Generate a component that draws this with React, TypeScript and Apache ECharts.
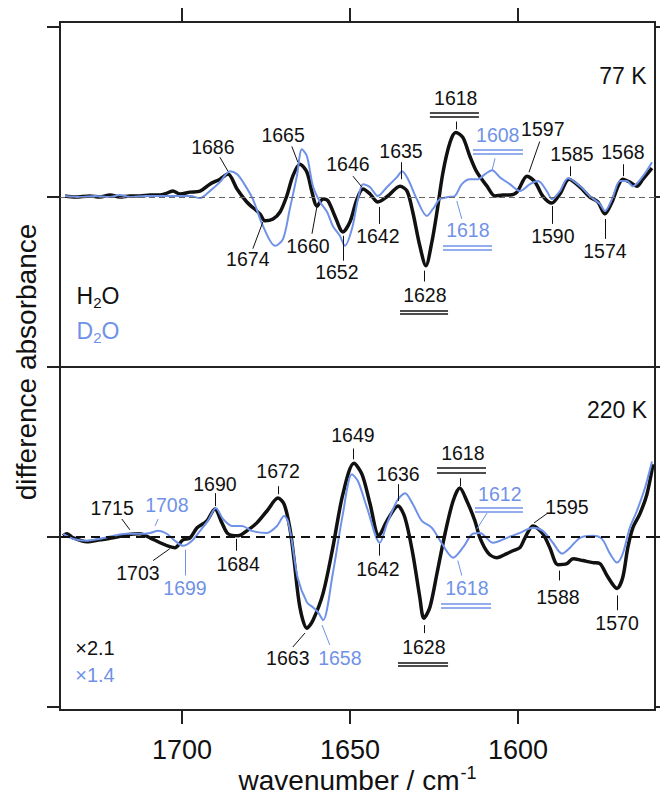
import React, { useEffect, useRef } from 'react';
import * as echarts from 'echarts';

const FONT = "'Liberation Sans', Arial, Helvetica, sans-serif";
const BLACK = '#111111';
const BLUE = '#6f92e8';

// x range (wavenumber, reversed axis)
const WN_MIN = 1559.2;
const WN_MAX = 1736.3;
const X_TICKS = [1700, 1650, 1600];
const Y_TICKS = [-1, 0, 1];

// ---- 77 K, H2O (black) ----
const h2o77Wn = [1734.8, 1731.8, 1727.4, 1724.4, 1721.4, 1718.5, 1715.5, 1712.5, 1709.5, 1706.5, 1705.1, 1702.7, 1700.6, 1697.6, 1694.6, 1691.7, 1688.7, 1686.3, 1683.6, 1680.7, 1676.8, 1675.3, 1672.9, 1670.8, 1668.8, 1667.0, 1664.9, 1662.8, 1661.3, 1659.8, 1658.0, 1656.5, 1654.5, 1652.1, 1650.0, 1647.9, 1646.1, 1644.0, 1641.7, 1638.7, 1635.1, 1633.0, 1631.3, 1629.2, 1627.4, 1625.6, 1624.1, 1622.3, 1620.2, 1618.5, 1616.4, 1614.3, 1612.2, 1609.2, 1606.8, 1604.5, 1602.4, 1600.3, 1597.3, 1594.9, 1592.6, 1589.9, 1587.5, 1584.8, 1581.5, 1578.6, 1576.2, 1574.1, 1572.0, 1570.2, 1568.8, 1566.7, 1564.6, 1562.8, 1560.1];
const h2o77Abs = [0.006, 0, 0.006, 0, 0.012, 0, 0.006, 0.006, 0.012, 0.012, 0.018, 0.035, 0.018, 0.029, 0.035, 0.076, 0.105, 0.135, 0.047, -0.029, -0.099, -0.140, -0.129, -0.088, 0.006, 0.123, 0.193, 0.146, 0.029, -0.053, -0.012, -0.023, -0.111, -0.205, -0.146, -0.012, 0.047, 0.018, -0.029, 0.006, 0.064, 0.035, -0.088, -0.287, -0.404, -0.263, -0.088, 0.146, 0.322, 0.380, 0.351, 0.240, 0.146, 0.064, 0.006, 0.012, 0.012, 0.029, 0.123, 0.088, 0.006, -0.035, 0.018, 0.105, 0.058, 0, -0.029, -0.099, -0.029, 0.064, 0.105, 0.088, 0.064, 0.105, 0.170];

// ---- 77 K, D2O (blue) ----
const d2o77Wn = [1734.8, 1730.4, 1725.9, 1721.4, 1718.5, 1715.5, 1711.0, 1706.5, 1702.1, 1697.6, 1694.6, 1691.7, 1688.7, 1685.7, 1683.6, 1681.8, 1678.9, 1675.9, 1672.3, 1669.9, 1667.9, 1665.8, 1664.3, 1662.8, 1661.0, 1658.9, 1656.8, 1655.1, 1653.0, 1651.5, 1649.4, 1647.6, 1646.1, 1644.0, 1641.7, 1639.0, 1636.0, 1634.5, 1632.7, 1630.1, 1627.1, 1625.3, 1623.2, 1620.8, 1618.8, 1616.7, 1614.3, 1611.9, 1609.8, 1607.7, 1605.4, 1602.4, 1599.4, 1596.4, 1594.0, 1591.4, 1589.9, 1587.5, 1585.1, 1581.5, 1578.6, 1575.6, 1574.1, 1572.0, 1569.6, 1567.6, 1565.8, 1562.8, 1560.1];
const d2o77Abs = [0.006, 0, 0.006, 0, 0.012, 0, 0.006, 0.006, 0.006, 0.006, -0.006, 0.035, 0.088, 0.152, 0.135, 0.088, -0.012, -0.170, -0.287, -0.246, -0.070, 0.123, 0.281, 0.240, 0.064, -0.029, -0.088, -0.170, -0.228, -0.287, -0.187, -0.012, 0.076, 0.058, 0.006, 0.058, 0.117, 0.152, 0.105, -0.012, -0.111, -0.070, -0.012, 0, 0.006, 0.076, 0.105, 0.105, 0.135, 0.158, 0.117, 0.076, 0.035, 0.076, 0.094, 0.035, -0.012, 0.035, 0.111, 0.064, 0.006, -0.041, -0.082, -0.012, 0.094, 0.094, 0.064, 0.123, 0.205];

// ---- 220 K, H2O (black, x2.1) ----
const h2o220Wn = [1735.4, 1734.2, 1732.4, 1728.3, 1724.4, 1720.5, 1716.4, 1712.5, 1709.5, 1706.5, 1703.6, 1702.1, 1699.7, 1697.6, 1695.5, 1692.6, 1690.2, 1688.1, 1686.3, 1683.3, 1680.7, 1677.7, 1674.7, 1671.4, 1669.6, 1667.9, 1666.7, 1664.9, 1662.8, 1661.0, 1658.0, 1655.1, 1652.1, 1648.8, 1646.4, 1644.0, 1641.4, 1639.0, 1635.7, 1633.6, 1631.3, 1629.2, 1628.0, 1626.2, 1624.1, 1621.7, 1619.3, 1617.3, 1615.2, 1612.8, 1611.3, 1608.9, 1606.3, 1603.3, 1601.5, 1599.4, 1597.9, 1595.5, 1592.6, 1590.5, 1588.1, 1585.4, 1583.6, 1580.7, 1577.7, 1575.6, 1573.5, 1570.5, 1568.8, 1567.3, 1565.8, 1563.7, 1561.6, 1559.8];
const h2o220Abs = [0.006, 0.018, -0.006, -0.029, -0.018, -0.006, 0.012, 0.018, -0.006, -0.035, -0.058, -0.064, -0.018, -0.006, 0.053, 0.094, 0.164, 0.082, 0.018, 0.006, 0.035, 0.082, 0.152, 0.228, 0.193, 0.053, -0.123, -0.415, -0.538, -0.491, -0.333, -0.064, 0.251, 0.433, 0.368, 0.193, 0.006, 0.094, 0.181, 0.111, -0.099, -0.357, -0.480, -0.415, -0.216, 0.018, 0.211, 0.287, 0.211, 0.094, -0.006, -0.094, -0.123, -0.099, -0.082, -0.064, -0.006, 0.064, 0.018, -0.064, -0.164, -0.158, -0.129, -0.140, -0.152, -0.158, -0.228, -0.304, -0.240, -0.064, 0.053, 0.135, 0.251, 0.427];

// ---- 220 K, D2O (blue, x1.4) ----
const d2o220Wn = [1735.4, 1732.4, 1728.3, 1724.4, 1716.4, 1712.5, 1709.5, 1707.1, 1704.5, 1702.1, 1699.7, 1697.0, 1694.6, 1692.3, 1689.9, 1687.8, 1685.1, 1682.1, 1679.2, 1674.7, 1671.7, 1669.6, 1668.5, 1667.3, 1665.5, 1662.8, 1661.0, 1659.5, 1658.0, 1655.1, 1652.1, 1649.4, 1647.6, 1644.9, 1641.1, 1639.0, 1636.0, 1633.6, 1631.3, 1628.6, 1625.6, 1622.6, 1619.3, 1616.4, 1613.4, 1611.3, 1607.4, 1603.3, 1599.4, 1595.5, 1592.6, 1589.6, 1586.9, 1584.5, 1581.5, 1577.7, 1575.0, 1572.6, 1570.5, 1568.8, 1566.7, 1564.6, 1562.2, 1560.1];
const d2o220Abs = [0.018, -0.012, -0.023, -0.012, 0.018, 0.018, 0.023, 0.035, 0.018, -0.023, -0.053, -0.023, 0.035, 0.094, 0.170, 0.105, 0.064, 0.064, 0.035, 0.023, 0.064, 0.123, 0.094, -0.023, -0.246, -0.386, -0.415, -0.444, -0.491, -0.216, 0.135, 0.368, 0.327, 0.170, -0.035, 0.076, 0.211, 0.257, 0.193, 0.094, 0.053, -0.041, -0.123, -0.064, 0.018, 0.023, -0.035, -0.006, 0.023, 0.053, 0.035, -0.035, -0.099, -0.064, -0.006, 0.006, -0.012, -0.099, -0.152, -0.099, 0.053, 0.152, 0.287, 0.444];

// ---- peak annotations: label text, label anchor (wn, abs), leader line, double underline ----
type Ann = { t: string; w: number; v: number; lead?: number[]; under?: number[] };

const ann77Black: Ann[] = [
  { t: '1686', w: 1690.8, v: 0.292, lead: [1688.7, 0.234, 1686.3, 0.152] },
  { t: '1665', w: 1669.9, v: 0.368, lead: [1667.3, 0.298, 1665.5, 0.205] },
  { t: '1674', w: 1680.4, v: -0.363, lead: [1678.9, -0.304, 1675.9, -0.146] },
  { t: '1660', w: 1662.5, v: -0.287, lead: [1661.3, -0.216, 1659.8, -0.053] },
  { t: '1652', w: 1653.9, v: -0.439, lead: [1652.1, -0.374, 1652.1, -0.228] },
  { t: '1646', w: 1650.6, v: 0.193, lead: [1649.1, 0.123, 1646.4, 0.058] },
  { t: '1642', w: 1641.7, v: -0.228, lead: [1641.4, -0.158, 1641.4, -0.058] },
  { t: '1635', w: 1634.8, v: 0.269, lead: [1634.8, 0.205, 1634.8, 0.105] },
  { t: '1628', w: 1627.7, v: -0.579, lead: [1628.0, -0.497, 1628.0, -0.433], under: [1635.1, 1620.8, -0.667, -0.684] },
  { t: '1618', w: 1618.5, v: 0.585, lead: [1618.5, 0.444, 1618.5, 0.398], under: [1626.2, 1611.6, 0.497, 0.474] },
  { t: '1597', w: 1592.6, v: 0.398, lead: [1593.5, 0.327, 1596.7, 0.146] },
  { t: '1585', w: 1583.9, v: 0.251, lead: [1584.5, 0.181, 1584.5, 0.123] },
  { t: '1568', w: 1568.75, v: 0.263, lead: [1568.75, 0.193, 1568.75, 0.123] },
  { t: '1590', w: 1589.6, v: -0.228, lead: [1589.9, -0.053, 1589.9, -0.158] },
  { t: '1574', w: 1574.1, v: -0.316, lead: [1574.1, -0.129, 1574.1, -0.246] },
];
const ann77Blue: Ann[] = [
  { t: '1608', w: 1606.0, v: 0.368, lead: [1606.8, 0.228, 1607.7, 0.158], under: [1613.4, 1598.5, 0.281, 0.257] },
  { t: '1618', w: 1614.9, v: -0.193, lead: [1618.2, -0.023, 1616.7, -0.129], under: [1622.3, 1607.7, -0.287, -0.310] },
];
const ann220Black: Ann[] = [
  { t: '1715', w: 1720.8, v: 0.170, lead: [1717.9, 0.105, 1715.5, 0.041] },
  { t: '1703', w: 1713.1, v: -0.216, lead: [1708.6, -0.140, 1703.6, -0.070] },
  { t: '1690', w: 1690.2, v: 0.310, lead: [1690.2, 0.257, 1690.2, 0.181] },
  { t: '1684', w: 1683.3, v: -0.158, lead: [1683.9, -0.082, 1683.9, -0.012] },
  { t: '1672', w: 1671.4, v: 0.386, lead: [1671.4, 0.298, 1671.4, 0.251] },
  { t: '1663', w: 1668.5, v: -0.713, lead: [1667.0, -0.649, 1663.4, -0.567] },
  { t: '1649', w: 1649.1, v: 0.602, lead: [1649.1, 0.520, 1649.1, 0.456] },
  { t: '1636', w: 1635.7, v: 0.368, lead: [1635.7, 0.310, 1635.7, 0.211] },
  { t: '1642', w: 1641.7, v: -0.187, lead: [1641.4, -0.111, 1641.4, -0.041] },
  { t: '1628', w: 1628.0, v: -0.649, lead: [1628.0, -0.567, 1628.0, -0.520], under: [1635.7, 1620.8, -0.743, -0.760] },
  { t: '1618', w: 1616.4, v: 0.491, lead: [1617.3, 0.345, 1617.3, 0.298], under: [1624.1, 1609.5, 0.404, 0.380] },
  { t: '1595', w: 1585.4, v: 0.175, lead: [1591.1, 0.140, 1595.2, 0.082] },
  { t: '1588', w: 1588.1, v: -0.357, lead: [1587.8, -0.199, 1587.8, -0.257] },
  { t: '1570', w: 1570.5, v: -0.509, lead: [1570.5, -0.345, 1570.5, -0.433] },
];
const ann220Blue: Ann[] = [
  { t: '1708', w: 1704.5, v: 0.187, lead: [1707.1, 0.105, 1708.0, 0.064] },
  { t: '1699', w: 1699.1, v: -0.304, lead: [1699.1, -0.228, 1699.1, -0.076] },
  { t: '1658', w: 1653.0, v: -0.713, lead: [1656.0, -0.637, 1658.3, -0.520] },
  { t: '1612', w: 1605.4, v: 0.251, lead: [1609.2, 0.140, 1612.2, 0.047], under: [1612.8, 1598.5, 0.170, 0.146] },
  { t: '1618', w: 1615.2, v: -0.304, lead: [1617.9, -0.140, 1616.7, -0.228], under: [1622.9, 1608.0, -0.392, -0.415] },
];

// panel texts
const panel77Texts = [
  { t: '77 K', w: 1568.75, v: 0.713, color: BLACK, size: 23 },
  { t: '{a|H}{s|2}{a|O}', w: 1725.0, v: -0.585, color: BLACK, size: 23 },
  { t: '{a|D}{s|2}{a|O}', w: 1725.0, v: -0.789, color: BLUE, size: 23 },
];
const panel220Texts = [
  { t: '220 K', w: 1570.5, v: 0.749, color: BLACK, size: 23 },
  { t: '×2.1', w: 1725.9, v: -0.655, color: BLACK, size: 20 },
  { t: '×1.4', w: 1725.9, v: -0.813, color: BLUE, size: 20 },
];

const zip = (xs: number[], ys: number[]) => {
  const n = Math.min(xs.length, ys.length);
  const out: number[][] = [];
  for (let i = 0; i < n; i++) out.push([xs[i], ys[i]]);
  return out;
};

const labelPoint = (t: string, w: number, v: number, color: string, size: number) => ({
  coord: [w, v],
  symbol: 'circle',
  symbolSize: 0,
  itemStyle: { color: 'rgba(0,0,0,0)' },
  label: {
    show: true,
    position: 'inside',
    formatter: t,
    color,
    fontSize: size,
    fontFamily: FONT,
    rich: {
      a: { fontSize: size, color, fontFamily: FONT },
      s: { fontSize: Math.round(size * 0.65), color, fontFamily: FONT, padding: [12, 0, 0, 0] },
    },
  },
});

const buildMarks = (anns: Ann[], color: string) => {
  const points = anns.map((a) => labelPoint(a.t, a.w, a.v, color, 19.5));
  const lines: any[] = [];
  anns.forEach((a) => {
    if (a.lead) {
      lines.push([
        { coord: [a.lead[0], a.lead[1]], lineStyle: { color, width: 1, type: 'solid' } },
        { coord: [a.lead[2], a.lead[3]] },
      ]);
    }
    if (a.under) {
      [a.under[2], a.under[3]].forEach((uv) => {
        lines.push([
          { coord: [a.under![0], uv], lineStyle: { color, width: 1.6, type: 'solid' } },
          { coord: [a.under![1], uv] },
        ]);
      });
    }
  });
  return { points, lines };
};

export default function App() {
  const ref = useRef<HTMLDivElement>(null);

  useEffect(() => {
    if (!ref.current) return;
    const chart = echarts.init(ref.current, undefined, { renderer: 'svg' });

    const m77k = buildMarks(ann77Black, BLACK);
    const m77b = buildMarks(ann77Blue, BLUE);
    const m220k = buildMarks(ann220Black, BLACK);
    const m220b = buildMarks(ann220Blue, BLUE);

    const frame = '#222222';
    const xBase = (gridIndex: number, position: 'top' | 'bottom', labels: boolean) => ({
      type: 'value',
      gridIndex,
      position,
      inverse: true,
      min: WN_MIN,
      max: WN_MAX,
      splitLine: { show: false },
      axisLine: { show: false, onZero: false },
      axisTick: {
        show: true,
        inside: false,
        length: 14,
        customValues: X_TICKS,
        lineStyle: { color: frame, width: 2 },
      },
      axisLabel: labels
        ? {
            show: true,
            customValues: X_TICKS,
            formatter: (v: number) => String(Math.round(v)),
            fontSize: 27,
            color: '#111',
            fontFamily: FONT,
            margin: 26,
          }
        : { show: false },
    });
    const yBase = (gridIndex: number, position: 'left' | 'right', min: number, max: number) => ({
      type: 'value',
      gridIndex,
      position,
      min,
      max,
      splitLine: { show: false },
      axisLine: { show: false, onZero: false },
      axisLabel: { show: false },
      axisTick: {
        show: true,
        inside: false,
        length: position === 'left' ? 13 : 6,
        customValues: Y_TICKS,
        lineStyle: { color: frame, width: 2 },
      },
    });

    const zeroLine = (color: string, width: number, dash: number[]) => ({
      yAxis: 0,
      lineStyle: { color, width, type: dash },
    });

    const lineSeries = (name: string, data: number[][], color: string, width: number, xi: number, yi: number, z: number) => ({
      name,
      type: 'line',
      xAxisIndex: xi,
      yAxisIndex: yi,
      data,
      showSymbol: false,
      symbol: 'none',
      smooth: 0.3,
      z,
      lineStyle: { color, width },
      itemStyle: { color },
      emphasis: { disabled: true },
    });

    const markLineBase = { silent: true, symbol: 'none', label: { show: false }, emphasis: { disabled: true } };
    const markPointBase = { silent: true, emphasis: { disabled: true } };

    chart.setOption({
      animation: false,
      backgroundColor: '#ffffff',
      grid: [
        { left: 60, top: 22, width: 595, height: 345, show: true, borderColor: frame, borderWidth: 2, backgroundColor: 'transparent' },
        { left: 60, top: 367, width: 595, height: 343, show: true, borderColor: frame, borderWidth: 2, backgroundColor: 'transparent' },
      ],
      xAxis: [
        xBase(0, 'top', false),
        {
          ...xBase(1, 'bottom', true),
          name: '{a|wavenumber / cm}{s|-1}',
          nameLocation: 'middle',
          nameGap: 53,
          nameTextStyle: {
            color: '#111',
            fontFamily: FONT,
            rich: {
              a: { fontSize: 28, color: '#111', fontFamily: FONT },
              s: { fontSize: 18, color: '#111', fontFamily: FONT, padding: [0, 0, 16, 1] },
            },
          },
        },
      ],
      yAxis: [
        yBase(0, 'left', -1, 1.03),
        yBase(0, 'right', -1, 1.03),
        yBase(1, 'left', -1.02, 1),
        yBase(1, 'right', -1.02, 1),
      ],
      graphic: [
        {
          type: 'text',
          x: 26,
          y: 362,
          rotation: Math.PI / 2,
          style: {
            text: 'difference absorbance',
            fontSize: 28,
            fontFamily: FONT,
            fill: '#111',
            textAlign: 'center',
            textVerticalAlign: 'middle',
          },
        },
      ],
      series: [
        {
          ...lineSeries('H2O 77 K', zip(h2o77Wn, h2o77Abs), BLACK, 3.5, 0, 0, 3),
          markLine: { ...markLineBase, data: [zeroLine('#666666', 1, [6, 4]), ...m77k.lines] },
          markPoint: {
            ...markPointBase,
            data: [
              ...m77k.points,
              ...panel77Texts.map((p) => labelPoint(p.t, p.w, p.v, p.color, p.size)),
            ],
          },
        },
        {
          ...lineSeries('D2O 77 K', zip(d2o77Wn, d2o77Abs), BLUE, 2, 0, 0, 4),
          markLine: { ...markLineBase, data: m77b.lines },
          markPoint: { ...markPointBase, data: m77b.points },
        },
        {
          ...lineSeries('H2O 220 K', zip(h2o220Wn, h2o220Abs), BLACK, 3.5, 1, 2, 3),
          markLine: { ...markLineBase, data: [zeroLine('#111111', 1.8, [9, 6]), ...m220k.lines] },
          markPoint: {
            ...markPointBase,
            data: [
              ...m220k.points,
              ...panel220Texts.map((p) => labelPoint(p.t, p.w, p.v, p.color, p.size)),
            ],
          },
        },
        {
          ...lineSeries('D2O 220 K', zip(d2o220Wn, d2o220Abs), BLUE, 2, 1, 2, 4),
          markLine: { ...markLineBase, data: m220b.lines },
          markPoint: { ...markPointBase, data: m220b.points },
        },
      ],
    });

    return () => {
      chart.dispose();
    };
  }, []);

  return (
    <div
      ref={ref}
      style={{ position: 'absolute', left: 0, top: 0, width: 660, height: 801, background: '#fff' }}
    />
  );
}
